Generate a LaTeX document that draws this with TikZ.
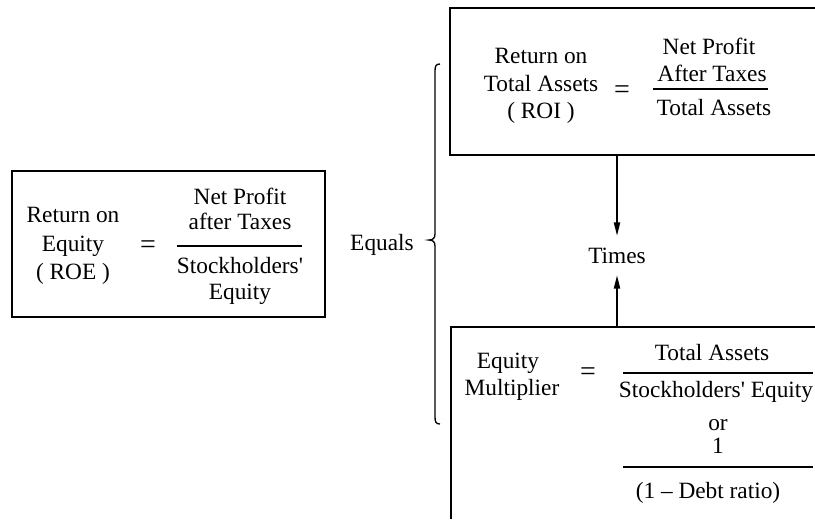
\documentclass[tikz,border=0pt]{standalone}
\usepackage{fontspec}
\setmainfont{Liberation Serif}
\usetikzlibrary{arrows.meta}
\newcommand\chartfont{\fontsize{17.5}{21}\selectfont}
\newcommand\eqfont{\fontsize{21}{21}\selectfont}
\tikzset{
  txt/.style={font=\chartfont, inner sep=0pt, text height=11.5pt, text depth=3pt, anchor=center},
  eqsign/.style={font=\eqfont, inner sep=0pt, anchor=center},
  frame/.style={line width=1.4pt, line join=miter},
  fracrule/.style={line width=1pt},
  arr/.style={line width=1.1pt, -{Triangle[length=10pt,width=4.6pt]}},
}
\begin{document}
\begin{tikzpicture}[x=0.75pt, y=-0.75pt]
\useasboundingbox (0,0) rectangle (815,519);

% ---- Return on Equity ----
\draw[frame] (12,171) rectangle (325,317);
\node[txt] (roe1) at (73,217) {Return on};
\node[txt] (roe2) at (73,246) {Equity};
\node[txt] (roe3) at (73,274) {( ROE )};
\node[eqsign] (roeeq) at (148,247) {=};
\node[txt] (roen1) at (240,199) {Net Profit};
\node[txt] (roen2) at (240,224) {after Taxes};
\draw[fracrule] (177,246) -- (302,246);
\node[txt] (roed1) at (240,268) {Stockholders\textquotesingle};
\node[txt] (roed2) at (240,294) {Equity};

\node[txt] (equals) at (382,245) {Equals};

% brace grouping the two factors
\draw[line width=1pt]
  (440,64) .. controls (436,64) and (435,66) .. (435,71)
  -- (435,234) .. controls (435,238) and (433,240) .. (429,240)
  .. controls (433,240) and (435,242) .. (435,246)
  -- (435,417) .. controls (435,422) and (436,424) .. (440,424);

% ---- Return on Total Assets ----
\draw[frame] (815,8) -- (450,8) -- (450,155) -- (815,155);
\node[txt] (roi1) at (541,58) {Return on};
\node[txt] (roi2) at (541,86) {Total Assets};
\node[txt] (roi3) at (541,113) {( ROI )};
\node[eqsign] (roieq) at (622,92) {=};
\node[txt] (roin1) at (709,49) {Net Profit};
\node[txt] (roin2) at (712,76) {After Taxes};
\draw[fracrule] (653,89) -- (768,89);
\node[txt] (roid1) at (714,110) {Total Assets};

% ---- Times ----
\node[font=\chartfont, inner sep=0pt, minimum height=29.25pt] (times) at (617,255.5) {Times};
\coordinate (roibase) at (617,155);
\coordinate (emtop) at (617,327);
\draw[arr] (roibase) -- (times.north);
\draw[arr] (emtop) -- (times.south);

% ---- Equity Multiplier ----
\draw[frame] (815,327) -- (451,327) -- (451,519);
\node[txt] (em1) at (508,363) {Equity};
\node[txt] (em2) at (512,390) {Multiplier};
\node[eqsign] (emeq) at (588,374) {=};
\node[txt] (emn1) at (712,355) {Total Assets};
\draw[fracrule] (623,373) -- (813,373);
\node[txt] (emd1) at (716,392) {Stockholders\textquotesingle{} Equity};
\node[txt] (emor) at (718,425) {or};
\node[txt] (emn2) at (718,448) {1};
\draw[fracrule] (623,467) -- (813,467);
\node[txt] (emd2) at (708,493) {(1 -- Debt ratio)};
\end{tikzpicture}
\end{document}
